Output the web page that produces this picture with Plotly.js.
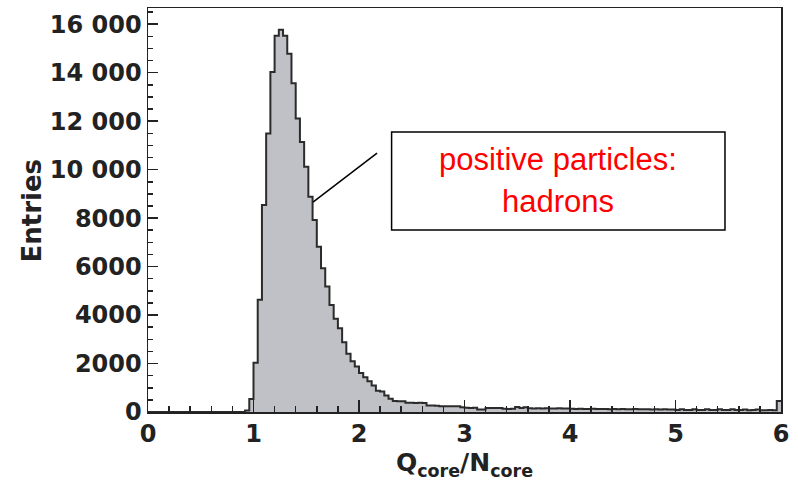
<!DOCTYPE html>
<html>
<head>
<meta charset="utf-8">
<script src="https://cdn.plot.ly/plotly-3.0.1.min.js"></script>
<style>html,body{margin:0;padding:0;background:#fff;}#chart{width:798px;height:483px;}</style>
</head>
<body>
<div id="chart"></div>
<script>
// Histogram of Q_core/N_core, 150 bins of width 0.04 from 0 to 6
const binWidth = 0.04;
const xMin = 0;
const counts = [
  0,0,0,0,0,0,0,0,0,0,            // 0.00-0.36
  0,0,0,0,0,0,0,0,0,0,            // 0.40-0.76
  0,0,0,60,540,2030,4630,8540,11490,14030,   // 0.80-1.16
  15530,15770,15530,14780,13570,12110,11140,10120,8880,7920, // 1.20-1.56
  6820,5930,5180,4420,3850,3460,2880,2400,2090,1880,        // 1.60-1.96
  1610,1430,1270,1090,880,850,680,545,450,445,              // 2.00-2.36
  440,380,378,375,380,370,270,265,260,240,                  // 2.40-2.76
  235,240,240,235,200,175,170,175,105,100,                  // 2.80-3.16
  170,165,170,160,130,125,135,210,160,200,                  // 3.20-3.56
  150,145,150,140,150,145,140,150,145,140,                  // 3.60-3.96
  130,125,130,120,125,130,120,125,120,115,                  // 4.00-4.36
  120,115,120,110,115,120,110,115,110,105,                  // 4.40-4.76
  110,105,110,100,105,80,110,80,85,110,                     // 4.80-5.16
  80,85,110,80,80,110,80,85,110,80,                         // 5.20-5.56
  80,100,75,80,105,75,70,80,70,450                          // 5.60-5.96
];

const yTitle = 'Entries';
const xTitle = 'Q<sub>core</sub>/N<sub>core</sub>';
const noteLines = ['positive particles:', 'hadrons'];

const xs = counts.map((_, i) => xMin + i * binWidth);
xs.push(xMin + counts.length * binWidth);
const ys = counts.slice();
ys.push(counts[counts.length - 1]);

const trace = {
  type: 'scatter',
  mode: 'lines',
  x: xs,
  y: ys,
  line: {shape: 'hv', color: '#2b2b2b', width: 2},
  fill: 'tozeroy',
  fillcolor: '#c0c1c6',
  hoverinfo: 'skip',
  showlegend: false
};

const tickFont = {family: 'DejaVu Sans', size: 24, color: '#222', weight: 'bold'};

const layout = {
  width: 798, height: 483,
  margin: {l: 148, r: 17, t: 8, b: 71, pad: 0},
  paper_bgcolor: '#fff', plot_bgcolor: '#fff',
  separators: '. ',
  showlegend: false,
  xaxis: {
    range: [0, 6], tick0: 0, dtick: 1,
    ticks: 'inside', ticklen: 12, tickwidth: 1.5, tickcolor: '#222',
    showline: true, linecolor: '#222', linewidth: 1.5, mirror: true,
    showgrid: false, zeroline: false,
    minor: {dtick: 0.2, ticks: 'inside', ticklen: 6, tickwidth: 1.5, tickcolor: '#222', showgrid: false},
    tickfont: tickFont,
    title: {text: xTitle, font: {family: 'DejaVu Sans', size: 25, color: '#222', weight: 'bold'}, standoff: 6},
    automargin: false
  },
  yaxis: {
    range: [0, 16670], tick0: 0, dtick: 2000,
    exponentformat: 'none',
    ticks: 'inside', ticklen: 10, tickwidth: 1.5, tickcolor: '#222',
    showline: true, linecolor: '#222', linewidth: 1.5, mirror: true,
    showgrid: false, zeroline: false,
    minor: {dtick: 500, ticks: 'inside', ticklen: 5, tickwidth: 1.5, tickcolor: '#222', showgrid: false},
    tickfont: tickFont,
    automargin: false
  },
  shapes: [
    {type: 'rect', xref: 'x', yref: 'y', x0: 2.309, x1: 5.469, y0: 7510, y1: 11556,
     line: {color: '#000', width: 1.5}, fillcolor: '#fff', layer: 'above'},
    {type: 'line', xref: 'x', yref: 'y', x0: 2.171, y0: 10680, x1: 1.564, y1: 8660,
     line: {color: '#000', width: 1.5}, layer: 'above'}
  ],
  annotations: [
    {text: yTitle, xref: 'paper', yref: 'paper', x: -0.1825, y: 0.5, textangle: -90,
     xanchor: 'center', yanchor: 'middle', showarrow: false,
     font: {family: 'DejaVu Sans', size: 26, color: '#222', weight: 'bold'}},
    {text: noteLines[0], xref: 'x', yref: 'y', x: 3.89, y: 10420, xanchor: 'center', yanchor: 'middle',
     showarrow: false, font: {family: 'Liberation Sans', size: 31, color: '#ff0000'}},
    {text: noteLines[1], xref: 'x', yref: 'y', x: 3.89, y: 8704, xanchor: 'center', yanchor: 'middle',
     showarrow: false, font: {family: 'Liberation Sans', size: 31, color: '#ff0000'}}
  ]
};

Plotly.newPlot('chart', [trace], layout, {staticPlot: true, displayModeBar: false});
</script>
</body>
</html>
